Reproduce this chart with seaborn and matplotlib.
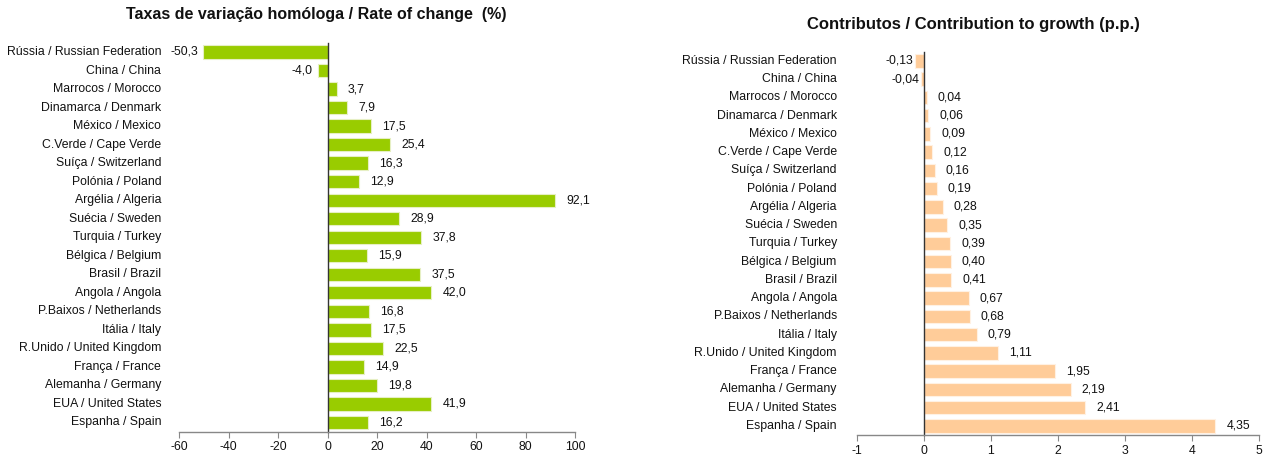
import matplotlib
matplotlib.use("Agg")
import matplotlib.pyplot as plt
import matplotlib.transforms as mtransforms
import seaborn as sns
import pandas as pd

categories = [
    "Rússia / Russian Federation", "China / China", "Marrocos / Morocco",
    "Dinamarca / Denmark", "México / Mexico", "C.Verde / Cape Verde",
    "Suíça / Switzerland", "Polónia / Poland", "Argélia / Algeria",
    "Suécia / Sweden", "Turquia / Turkey", "Bélgica / Belgium",
    "Brasil / Brazil", "Angola / Angola", "P.Baixos / Netherlands",
    "Itália / Italy", "R.Unido / United Kingdom", "França / France",
    "Alemanha / Germany", "EUA / United States", "Espanha / Spain",
]
rate_of_change = [-50.3, -4.0, 3.7, 7.9, 17.5, 25.4, 16.3, 12.9, 92.1, 28.9,
                  37.8, 15.9, 37.5, 42.0, 16.8, 17.5, 22.5, 14.9, 19.8, 41.9, 16.2]
contributions = [-0.13, -0.04, 0.04, 0.06, 0.09, 0.12, 0.16, 0.19, 0.28, 0.35,
                 0.39, 0.40, 0.41, 0.67, 0.68, 0.79, 1.11, 1.95, 2.19, 2.41, 4.35]
left_title = "Taxas de variação homóloga / Rate of change  (%)"
right_title = "Contributos / Contribution to growth (p.p.)"
left_xticks = [-60, -40, -20, 0, 20, 40, 60, 80, 100]
right_xticks = [-1, 0, 1, 2, 3, 4, 5]

sns.set_theme(style="white")
plt.rcParams["font.family"] = ["Liberation Sans", "DejaVu Sans"]

df = pd.DataFrame({"cat": categories, "rate": rate_of_change, "contrib": contributions})

fig = plt.figure(figsize=(12.66, 4.58), dpi=100)
ax1 = fig.add_axes([0.1414, 0.0573, 0.3128, 0.8494])
ax2 = fig.add_axes([0.6769, 0.0500, 0.3175, 0.8370])

FS = 8.8


def style_axis(ax, col, color, edge, height, xticks, fmt, label_x, pos_off, neg_off):
    sns.barplot(data=df, y="cat", x=col, order=categories, orient="h",
                color=color, width=height, ax=ax, edgecolor=edge,
                linewidth=0.8, saturation=1)
    n = len(categories)
    ax.set_ylim(n - 0.5, -0.5)
    ax.set_xlim(xticks[0], xticks[-1])
    ax.set_xticks(xticks)
    ax.set_xticklabels([str(t) for t in xticks], fontsize=FS, color="#111111")
    ax.set_xlabel("")
    ax.set_ylabel("")
    for s in ["top", "right"]:
        ax.spines[s].set_visible(False)
    ax.spines["left"].set_position(("data", 0))
    ax.spines["left"].set_color("#333333")
    ax.spines["left"].set_linewidth(1.0)
    ax.spines["bottom"].set_color("#888888")
    ax.spines["bottom"].set_linewidth(1.0)
    ax.set_yticks([i - 0.5 for i in range(n + 1)])
    ax.set_yticklabels([])
    ax.tick_params(axis="y", direction="out", length=4, width=0.8, color="#333333", pad=2)
    ax.tick_params(axis="x", direction="out", length=4, width=0.8, color="#888888",
                   pad=3, bottom=True)
    trans = mtransforms.blended_transform_factory(ax.transAxes, ax.transData)
    for i, c in enumerate(categories):
        ax.text(label_x, i, c, transform=trans, ha="right", va="center",
                fontsize=FS, color="#111111")
    for i, v in enumerate(df[col]):
        s = fmt.format(v).replace(".", ",")
        if v >= 0:
            ax.annotate(s, (v, i), xytext=(pos_off, 0), textcoords="offset points",
                        ha="left", va="center", fontsize=FS, color="#111111")
        else:
            ax.annotate(s, (v, i), xytext=(-neg_off, 0), textcoords="offset points",
                        ha="right", va="center", fontsize=FS, color="#111111")
    ax.grid(False)


style_axis(ax1, "rate", "#99CC00", "#e6efc4", 0.72, left_xticks, "{:.1f}", -0.045, 8, 3.5)
style_axis(ax2, "contrib", "#FFCC99", "#fff1e3", 0.74, right_xticks, "{:.2f}", -0.05, 8, 1.5)

fig.text(316 / 1266, 1 - 15 / 458, left_title, ha="center", va="center",
         fontsize=11.5, fontweight="bold", color="#111111")
fig.text(973 / 1266, 1 - 24 / 458, right_title, ha="center", va="center",
         fontsize=12, fontweight="bold", color="#111111")

fig.savefig("out.png", dpi=100)
